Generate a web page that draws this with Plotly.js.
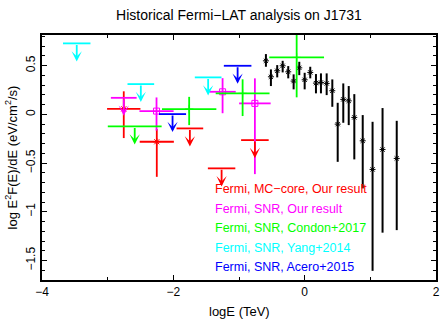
<!DOCTYPE html>
<html>
<head>
<meta charset="utf-8">
<script src="https://cdn.plot.ly/plotly-3.0.1.min.js"></script>
<style>
  body { margin: 0; background: #fff; }
  #graph { width: 440px; height: 327px; }
</style>
</head>
<body>
<div id="graph"></div>
<script>
// black points: spectrum with errors
const blkX = [-0.59, -0.514, -0.418, -0.335, -0.25, -0.168, -0.082, 0.0, 0.085, 0.172, 0.248,
    0.335, 0.421, 0.503, 0.588, 0.671, 0.756, 0.884, 1.034, 1.186, 1.402];
const blkY = [0.55, 0.386, 0.448, 0.499, 0.437, 0.342, 0.478, 0.355, 0.431, 0.321, 0.328,
    0.318, 0.243, -0.1, 0.154, 0.139, -0.031, -0.271, -0.565, -0.361, -0.452];
const blkUp = [0.069, 0.076, 0.058, 0.051, 0.059, 0.069, 0.062, 0.072, 0.058, 0.093, 0.093,
    0.103, 0.116, 0.219, 0.164, 0.152, 0.239, 0.264, 0.489, 0.426, 0.386];
const blkDn = [0.061, 0.095, 0.068, 0.068, 0.067, 0.085, 0.075, 0.098, 0.061, 0.105, 0.112,
    0.12, 0.165, 0.387, 0.24, 0.249, 0.431, 0.489, 1.041, 0.853, 0.736];

// Fermi, MC-core, our result
const redX = [-2.755, -2.252];
const redY = [0.057, -0.281];
const redXErr = [0.254, 0.26];
const redUp = [0.18, 0.13];
const redDn = [0.3, 0.36];
const redUlX = [-1.748, -1.265, -0.758];
const redUlY = [-0.144, -0.554, -0.264];
const redUlXErr = [0.203, 0.209, 0.21];

// Fermi, SNR, our result
const magX = [-2.256, -1.25, -0.758];
const magY = [0.034, 0.232, 0.113];
const magXErr = [0.26, 0.2, 0.24];
const magUp = [0.14, 0.14, 0.257];
const magDn = [0.2, 0.22, 0.726];
const magUlX = [-2.755];
const magUlY = [0.17];
const magUlXErr = [0.196];

// Condon+2017
const grnX = [-1.759, -0.945, -0.122];
const grnY = [0.054, 0.216, 0.585];
const grnXErr = [0.414, 0.41, 0.417];
const grnUp = [0.126, 0.144, 0.24];
const grnDn = [0.164, 0.233, 0.41];
const grnUlX = [-2.588];
const grnUlY = [-0.123];
const grnUlXErr = [0.41];

// Yang+2014
const cyaUlX = [-3.471, -2.495, -1.47];
const cyaUlY = [0.729, 0.311, 0.38];
const cyaUlXErr = [0.209, 0.203, 0.203];

// Acero+2015
const bluUlX = [-2.012, -1.021];
const bluUlY = [0.003, 0.499];
const bluUlXErr = [0.206, 0.21];

const legendTexts = ['Fermi, MC\u2212core, Our result', 'Fermi, SNR, Our result',
    'Fermi, SNR, Condon+2017', 'Fermi, SNR, Yang+2014', 'Fermi, SNR, Acero+2015'];
const legendColors = ['#ff0000', '#ff00ff', '#00ff00', '#00ffff', '#0000ff'];

const FONT = 'Liberation Sans, Arial, sans-serif';
const ARROW_LEN = 0.185;

function pointTrace(x, y, xerr, up, dn, color, symbol) {
    return {
        x: x, y: y, type: 'scatter', mode: 'markers',
        marker: {symbol: symbol, size: 6, color: color, line: {color: color, width: 1}},
        error_x: {type: 'data', array: xerr, color: color, thickness: 1.8, width: 0},
        error_y: {type: 'data', symmetric: false, array: up, arrayminus: dn,
            color: color, thickness: 1.8, width: 0},
        hoverinfo: 'x+y',
    };
}

function ulTrace(x, y, xerr, color) {
    return {
        x: x, y: y, type: 'scatter', mode: 'markers',
        marker: {size: 1, color: color, opacity: 0},
        error_x: {type: 'data', array: xerr, color: color, thickness: 1.8, width: 0},
        hoverinfo: 'x+y',
    };
}

// upper-limit arrows: from the bar down to a notched head
function ulArrows(x, y, color) {
    return x.map((xv, i) => ({
        x: xv, y: y[i] - ARROW_LEN,
        ax: xv, ay: y[i], axref: 'x', ayref: 'y', xref: 'x', yref: 'y',
        text: '', showarrow: true,
        arrowhead: 3, arrowsize: 0.95, arrowwidth: 1.8, arrowcolor: color,
    }));
}

const traces = [
    {
        x: blkX, y: blkY, type: 'scatter', mode: 'markers',
        marker: {symbol: 'asterisk-open', size: 5, color: '#000', line: {color: '#000', width: 1}},
        error_y: {type: 'data', symmetric: false, array: blkUp, arrayminus: blkDn,
            color: '#000', thickness: 2, width: 0},
        hoverinfo: 'x+y',
    },
    pointTrace(redX, redY, redXErr, redUp, redDn, '#ff0000', 'asterisk-open'),
    ulTrace(redUlX, redUlY, redUlXErr, '#ff0000'),
    pointTrace(magX, magY, magXErr, magUp, magDn, '#ff00ff', 'square-open'),
    ulTrace(magUlX, magUlY, magUlXErr, '#ff00ff'),
    pointTrace(grnX, grnY, grnXErr, grnUp, grnDn, '#00ff00', 'cross-thin-open'),
    ulTrace(grnUlX, grnUlY, grnUlXErr, '#00ff00'),
    ulTrace(cyaUlX, cyaUlY, cyaUlXErr, '#00ffff'),
    ulTrace(bluUlX, bluUlY, bluUlXErr, '#0000ff'),
];

let annotations = [].concat(
    ulArrows(redUlX, redUlY, '#ff0000'),
    ulArrows(magUlX, magUlY, '#ff00ff'),
    ulArrows(grnUlX, grnUlY, '#00ff00'),
    ulArrows(cyaUlX, cyaUlY, '#00ffff'),
    ulArrows(bluUlX, bluUlY, '#0000ff')
);

legendTexts.forEach((t, i) => {
    annotations.push({
        xref: 'paper', yref: 'paper', x: 0.435, y: 0.371 - i * 0.0795,
        xanchor: 'left', yanchor: 'middle', showarrow: false,
        text: t, font: {family: FONT, size: 12.5, color: legendColors[i]},
    });
});

// x axis title placed a little lower than plotly's default
annotations.push({
    xref: 'paper', yref: 'paper', x: 0.5, y: -0.129,
    xanchor: 'center', yanchor: 'middle', showarrow: false,
    text: 'logE (TeV)', font: {family: FONT, size: 13, color: '#000'},
});

const axisCommon = {
    showgrid: false, zeroline: false,
    showline: true, mirror: 'allticks', linecolor: '#000', linewidth: 1.5,
    ticks: 'inside', ticklen: 5, tickwidth: 1, tickcolor: '#000',
    tickfont: {family: FONT, size: 12, color: '#000'},
};

const layout = {
    width: 440, height: 327,
    margin: {l: 42, r: 4, t: 35, b: 47},
    paper_bgcolor: '#fff', plot_bgcolor: '#fff',
    showlegend: false,
    title: {
        text: 'Historical Fermi\u2212LAT analysis on J1731',
        font: {family: FONT, size: 14, color: '#000'},
        xref: 'paper', x: 0.5, y: 0.954, yanchor: 'middle',
    },
    xaxis: Object.assign({}, axisCommon, {
        range: [-4, 2], tick0: -4, dtick: 2,
        minor: {dtick: 1, ticks: 'inside', ticklen: 3, tickcolor: '#000'},
    }),
    yaxis: Object.assign({}, axisCommon, {
        range: [-1.7, 0.815], tick0: 0, dtick: 0.5, tickangle: -90,
        minor: {dtick: 0.1, ticks: 'inside', ticklen: 3, tickcolor: '#000'},
        title: {text: 'log E<sup>2</sup>F(E)/dE (eV/cm<sup>2</sup>/s)',
            font: {family: FONT, size: 13, color: '#000'}, standoff: 4},
    }),
    annotations: annotations,
};

Plotly.newPlot('graph', traces, layout, {displayModeBar: false, responsive: false});
</script>
</body>
</html>
